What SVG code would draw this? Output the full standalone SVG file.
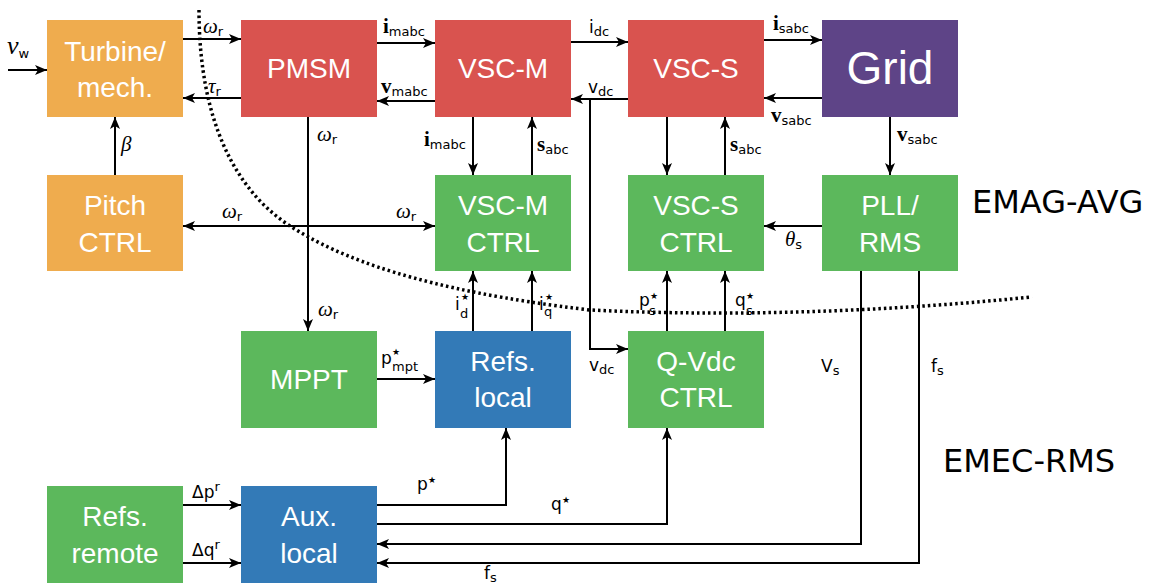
<svg xmlns="http://www.w3.org/2000/svg" width="1154" height="587" viewBox="0 0 1154 587">
<style>
.box text{font-family:"Liberation Sans",Arial,sans-serif;font-size:28px;fill:#fff;text-anchor:middle}
.or{fill:#EFAC4E}.rd{fill:#D9534F}.gr{fill:#5CB85C}.bl{fill:#337AB7}.pu{fill:#5E4487}
.c path{fill:none;stroke:#000;stroke-width:2;marker-end:url(#ah)}
.c path.nm{marker-end:none}
.l{font-family:"DejaVu Sans",sans-serif;font-size:17px;fill:#000}
.s{font-size:13px}
.g{font-family:"Liberation Serif",serif;font-style:italic;font-size:21px}
.b{font-family:"Liberation Serif",serif;font-weight:bold;font-size:21px}
.st{font-family:"DejaVu Sans",sans-serif;font-size:9px}
.big{font-family:"DejaVu Sans",sans-serif;font-size:32px;fill:#000}
</style>
<defs>
<marker id="ah" markerUnits="userSpaceOnUse" markerWidth="13" markerHeight="10" refX="12" refY="5" orient="auto">
<path d="M0,0 L12,5 L0,10 L3,5 z" fill="#000"/>
</marker>
</defs>

<g id="turbine" class="box"><rect class="or" x="47" y="20" width="136" height="97"/><text x="115" y="61">Turbine/</text><text x="115" y="97">mech.</text></g>
<g id="pmsm" class="box"><rect class="rd" x="241" y="20" width="136" height="97"/><text x="309" y="78">PMSM</text></g>
<g id="vscm" class="box"><rect class="rd" x="435" y="20" width="136" height="97"/><text x="503" y="78">VSC-M</text></g>
<g id="vscs" class="box"><rect class="rd" x="628" y="20" width="136" height="97"/><text x="696" y="78">VSC-S</text></g>
<g id="grid" class="box"><rect class="pu" x="822" y="20" width="136" height="97"/><text x="890" y="84" style="font-size:46px">Grid</text></g>

<g id="pitch" class="box"><rect class="or" x="47" y="175" width="136" height="96"/><text x="115" y="215">Pitch</text><text x="115" y="252">CTRL</text></g>
<g id="vscmctrl" class="box"><rect class="gr" x="435" y="175" width="136" height="96"/><text x="503" y="215">VSC-M</text><text x="503" y="252">CTRL</text></g>
<g id="vscsctrl" class="box"><rect class="gr" x="628" y="175" width="136" height="96"/><text x="696" y="215">VSC-S</text><text x="696" y="252">CTRL</text></g>
<g id="pll" class="box"><rect class="gr" x="822" y="175" width="136" height="96"/><text x="890" y="215">PLL/</text><text x="890" y="252">RMS</text></g>

<g id="mppt" class="box"><rect class="gr" x="241" y="331" width="136" height="97"/><text x="309" y="389">MPPT</text></g>
<g id="refslocal" class="box"><rect class="bl" x="435" y="331" width="136" height="97"/><text x="503" y="371">Refs.</text><text x="503" y="407">local</text></g>
<g id="qvdc" class="box"><rect class="gr" x="628" y="331" width="136" height="97"/><text x="696" y="371">Q-Vdc</text><text x="696" y="407">CTRL</text></g>

<g id="refsremote" class="box"><rect class="gr" x="47" y="486" width="136" height="97"/><text x="115" y="526">Refs.</text><text x="115" y="563">remote</text></g>
<g id="auxlocal" class="box"><rect class="bl" x="241" y="486" width="136" height="97"/><text x="309" y="526">Aux.</text><text x="309" y="563">local</text></g>

<g id="connectors" class="c">
<path d="M8,70 L47,70"/>
<path d="M183,39 L241,39"/>
<path d="M241,98 L183,98"/>
<path d="M115,175 L115,117"/>
<path d="M377,43 L435,43"/>
<path d="M435,101 L377,101"/>
<path d="M571,42 L628,42"/>
<path d="M628,99 L571,99"/>
<path d="M590,99 L590,349 L628,349"/>
<path d="M764,40 L822,40"/>
<path d="M822,98 L764,98"/>
<path d="M890,117 L890,175"/>
<path d="M473,117 L473,175"/>
<path d="M532,175 L532,117"/>
<path d="M667,117 L667,175"/>
<path d="M725,175 L725,117"/>
<path d="M822,226 L764,226"/>
<path d="M308,117 L308,331"/>
<path d="M308,226 L183,226"/>
<path d="M308,226 L435,226"/>
<path d="M473,331 L473,271"/>
<path d="M532,331 L532,271"/>
<path d="M667,331 L667,271"/>
<path d="M725,331 L725,271"/>
<path d="M377,379 L435,379"/>
<path d="M377,505 L506,505 L506,428"/>
<path d="M377,524 L667,524 L667,428"/>
<path d="M861,271 L861,544 L377,544"/>
<path d="M919,271 L919,563 L377,563"/>
<path d="M183,505 L241,505"/>
<path d="M183,563 L241,563"/>
<path class="nm" d="M199,10 C199,120 235,190 290,226 C340,258 420,290 590,310 Q800,320 1032,297" style="stroke-width:3.5;stroke-dasharray:2.5 3"/>
</g>

<g id="labels" class="l">
<text x="7" y="54"><tspan class="g" style="font-size:26px">ν</tspan><tspan class="s" dy="4">w</tspan></text>
<text x="203" y="33"><tspan class="g">ω</tspan><tspan class="s" dy="3">r</tspan></text>
<text x="208" y="93"><tspan class="g">τ</tspan><tspan class="s" dy="3">r</tspan></text>
<text x="121" y="151" class="g">β</text>
<text x="317" y="141"><tspan class="g">ω</tspan><tspan class="s" dy="3">r</tspan></text>
<text x="383" y="33"><tspan class="b">i</tspan><tspan class="s" dy="3">mabc</tspan></text>
<text x="381" y="93"><tspan class="b">v</tspan><tspan class="s" dy="3">mabc</tspan></text>
<text x="589" y="33">i<tspan class="s" dy="3">dc</tspan></text>
<text x="588" y="93">v<tspan class="s" dy="3">dc</tspan></text>
<text x="424" y="146"><tspan class="b">i</tspan><tspan class="s" dy="3">mabc</tspan></text>
<text x="537" y="151"><tspan class="b">s</tspan><tspan class="s" dy="3">abc</tspan></text>
<text x="730" y="151"><tspan class="b">s</tspan><tspan class="s" dy="3">abc</tspan></text>
<text x="773" y="30"><tspan class="b">i</tspan><tspan class="s" dy="3">sabc</tspan></text>
<text x="771" y="122"><tspan class="b">v</tspan><tspan class="s" dy="3">sabc</tspan></text>
<text x="897" y="141"><tspan class="b">v</tspan><tspan class="s" dy="3">sabc</tspan></text>
<text x="222" y="218"><tspan class="g">ω</tspan><tspan class="s" dy="3">r</tspan></text>
<text x="396" y="218"><tspan class="g">ω</tspan><tspan class="s" dy="3">r</tspan></text>
<text x="318" y="316"><tspan class="g">ω</tspan><tspan class="s" dy="3">r</tspan></text>
<text x="785" y="246"><tspan class="g">θ</tspan><tspan class="s" dy="3">s</tspan></text>
<text x="455" y="310">i<tspan class="st" x="461" y="300">★</tspan><tspan class="s" x="460" y="318">d</tspan></text>
<text x="539" y="310">i<tspan class="st" x="545" y="300">★</tspan><tspan class="s" x="544" y="316">q</tspan></text>
<text x="639" y="306">p<tspan class="st" x="650" y="299">★</tspan><tspan class="s" x="649" y="315">s</tspan></text>
<text x="735" y="306">q<tspan class="st" x="746" y="299">★</tspan><tspan class="s" x="746" y="315">s</tspan></text>
<text x="381" y="364">p<tspan class="st" x="392" y="355">★</tspan><tspan class="s" x="392" y="371">mpt</tspan></text>
<text x="589" y="371">v<tspan class="s" dy="3">dc</tspan></text>
<text x="821" y="372">V<tspan class="s" dy="3">s</tspan></text>
<text x="931" y="372">f<tspan class="s" dy="3">s</tspan></text>
<text x="417" y="490">p<tspan class="st" x="428" y="483">★</tspan></text>
<text x="551" y="510">q<tspan class="st" x="562" y="503">★</tspan></text>
<text x="192" y="498">Δp<tspan class="s" dy="-7">r</tspan></text>
<text x="192" y="556">Δq<tspan class="s" dy="-7">r</tspan></text>
<text x="484" y="579">f<tspan class="s" dy="3">s</tspan></text>
<text x="972" y="213" class="big">EMAG-AVG</text>
<text x="943" y="472" class="big">EMEC-RMS</text>
</g>
</svg>
